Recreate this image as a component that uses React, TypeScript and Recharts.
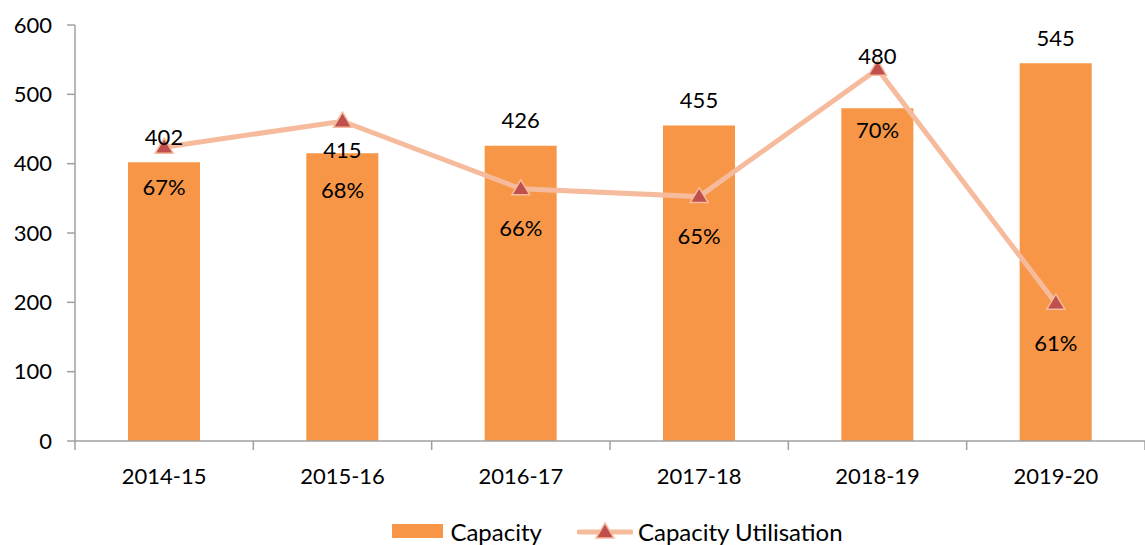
import React from 'react';
import { ComposedChart, Bar, Line, XAxis, YAxis, Legend, LabelList } from 'recharts';

const categories = ['2014-15', '2015-16', '2016-17', '2017-18', '2018-19', '2019-20'];
const capacity = [402, 415, 426, 455, 480, 545];
const utilisation = [67.3, 68.3, 65.7, 65.4, 70.3, 61.3];
const capacityTicks = [0, 100, 200, 300, 400, 500, 600];

const data = categories.map((c, i) => ({ category: c, capacity: capacity[i], utilisation: utilisation[i] }));

const W = 1145;
const H = 545;
const YW = 75;
const FONT = 'Lato, "Open Sans", sans-serif';
const FS = 22;
const BAR = '#F79646';
const LINE = '#F5BB9C';
const MARK = '#C0504D';
const AXIS = '#A0A0A0';

// manual label nudges (as in the original, some labels were moved by hand)
const barLabelNudge: Record<number, number> = { 1: 22, 4: -27 };
const pctLabelNudge: Record<number, number> = { 1: 29, 4: 21 };

const Triangle = ({ cx, cy, size = 1 }: any) => {
  if (cx == null || cy == null) return null;
  const w = 9 * size;
  return (
    <path
      d={`M${cx},${cy - 9 * size} L${cx + w},${cy + 6 * size} L${cx - w},${cy + 6 * size} Z`}
      fill={MARK}
      stroke={LINE}
      strokeWidth={1.5}
    />
  );
};

const BarLabel = (props: any) => {
  const { x, y, width, value, index } = props;
  const dy = barLabelNudge[index] || 0;
  return (
    <text x={x + width / 2} y={y - 26 + dy} textAnchor="middle" dominantBaseline="central"
      fontFamily={FONT} fontSize={FS} fill="#000">{value}</text>
  );
};

const PctLabel = (props: any) => {
  const { x, y, value, index } = props;
  const dy = pctLabelNudge[index] || 0;
  return (
    <text x={x} y={y + 39 + dy} textAnchor="middle" dominantBaseline="central"
      fontFamily={FONT} fontSize={FS} fill="#000">{`${Math.round(value)}%`}</text>
  );
};

const band = (W - YW) / categories.length;

const XTick = (props: any) => {
  const { x, y, payload, index } = props;
  const half = band / 2;
  return (
    <g>
      <line x1={x - half} x2={x - half} y1={y} y2={y + 9} stroke={AXIS} strokeWidth={1.5} />
      {index === categories.length - 1 && (
        <line x1={x + half} x2={x + half} y1={y} y2={y + 9} stroke={AXIS} strokeWidth={1.5} />
      )}
      <text x={x} y={y + 34} textAnchor="middle" dominantBaseline="central"
        fontFamily={FONT} fontSize={FS} fill="#000">{payload.value}</text>
    </g>
  );
};

const LegendContent = () => (
  <div style={{ display: 'flex', justifyContent: 'center', alignItems: 'center', height: 30,
    boxSizing: 'border-box', paddingTop: 2,
    paddingLeft: 90, fontFamily: FONT, fontSize: 24, color: '#000' }}>
    <svg width={51} height={14} style={{ marginRight: 7 }}>
      <rect x={0} y={0} width={51} height={14} fill={BAR} />
    </svg>
    <span style={{ marginRight: 35 }}>Capacity</span>
    <svg width={56} height={20} style={{ marginRight: 5 }}>
      <line x1={2} x2={54} y1={11} y2={11} stroke={LINE} strokeWidth={5} strokeLinecap="round" />
      <Triangle cx={28} cy={11} />
    </svg>
    <span>Capacity Utilisation</span>
  </div>
);

export default function App() {
  return (
    <div style={{ position: 'absolute', left: 0, top: 0, width: W, height: H, background: '#fff' }}>
      <ComposedChart width={W} height={H} data={data} margin={{ top: 25, right: 0, left: 0, bottom: 0 }}>
        <XAxis dataKey="category" tick={<XTick />} tickLine={false} tickSize={0} tickMargin={0}
          axisLine={{ stroke: AXIS, strokeWidth: 1.5 }} height={74} interval={0} />
        <YAxis yAxisId="left" width={YW} domain={[0, 600]} ticks={capacityTicks} tickSize={8} tickMargin={15}
          axisLine={{ stroke: AXIS, strokeWidth: 1.5 }} tickLine={{ stroke: AXIS, strokeWidth: 1.5 }}
          tick={{ fill: '#000', fontFamily: FONT, fontSize: FS }} interval={0} />
        <YAxis yAxisId="right" orientation="right" domain={[56, 72]} hide />
        <Legend verticalAlign="bottom" content={<LegendContent />} wrapperStyle={{ height: 30 }} />
        <Bar yAxisId="left" dataKey="capacity" name="Capacity" fill={BAR} barSize={72} isAnimationActive={false}>
          <LabelList dataKey="capacity" content={<BarLabel />} />
        </Bar>
        <Line yAxisId="right" dataKey="utilisation" name="Capacity Utilisation" stroke={LINE} strokeWidth={5}
          dot={<Triangle />} activeDot={false} isAnimationActive={false}>
          <LabelList dataKey="utilisation" content={<PctLabel />} />
        </Line>
      </ComposedChart>
    </div>
  );
}
